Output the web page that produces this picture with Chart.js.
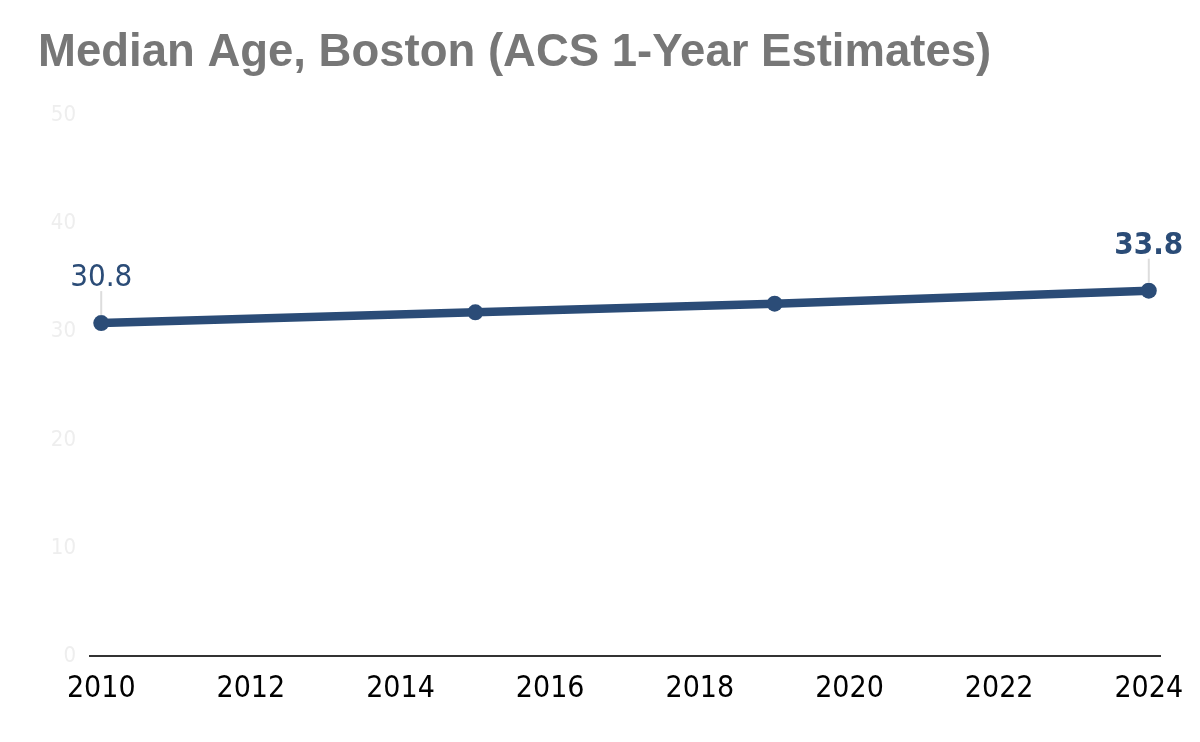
<!DOCTYPE html>
<html>
<head>
<meta charset="utf-8">
<script src="https://cdn.jsdelivr.net/npm/chart.js@4.4.1/dist/chart.umd.min.js"></script>
<style>
  html, body { margin: 0; padding: 0; background: #ffffff; }
  #wrap { width: 1200px; height: 742px; position: relative; }
</style>
</head>
<body>
<div id="wrap"><canvas id="ageChart"></canvas></div>
<script>
// data
const years = [2010, 2015, 2019, 2024];
const medianAge = [30.8, 31.8, 32.6, 33.8];
const xTickYears = [2010, 2012, 2014, 2016, 2018, 2020, 2022, 2024];
const yTickValues = [0, 10, 20, 30, 40, 50];
// which points carry a value label, and whether it is bold
const labelled = [0, 3];
const labelBold = [false, true];

const navy = '#2b4c77';
const tickFont = "'DejaVu Sans Condensed', 'DejaVu Sans', sans-serif";

// draws the value labels with a thin leader line above the point
const valueLabels = {
    id: 'valueLabels',
    afterDatasetsDraw(chart) {
        const ctx = chart.ctx;
        const meta = chart.getDatasetMeta(0);
        ctx.save();
        labelled.forEach(function(idx, k) {
            const pt = meta.data[idx];
            ctx.strokeStyle = '#dddddd';
            ctx.lineWidth = 2;
            ctx.beginPath();
            ctx.moveTo(pt.x, pt.y - 8);
            ctx.lineTo(pt.x, pt.y - 32);
            ctx.stroke();
            ctx.fillStyle = navy;
            ctx.font = (labelBold[k] ? 'bold ' : '') + '31px ' + tickFont;
            ctx.textAlign = 'center';
            ctx.textBaseline = 'alphabetic';
            ctx.fillText(medianAge[idx].toFixed(1), pt.x, pt.y - 37);
        });
        ctx.restore();
    }
};

const ctx = document.getElementById('ageChart').getContext('2d');
new Chart(ctx, {
    type: 'line',
    data: {
        datasets: [{
            data: years.map(function(y, i) { return { x: y, y: medianAge[i] }; }),
            borderColor: navy,
            backgroundColor: navy,
            borderWidth: 8.5,
            pointRadius: 8,
            pointHoverRadius: 8,
            pointBackgroundColor: navy,
            pointBorderWidth: 0,
            tension: 0,
            fill: false
        }]
    },
    options: {
        responsive: true,
        maintainAspectRatio: false,
        animation: false,
        layout: { padding: { left: 38, right: 40, top: 0, bottom: 20 } },
        plugins: {
            legend: { display: false },
            tooltip: { enabled: false },
            title: {
                display: true,
                text: 'Median Age, Boston (ACS 1-Year Estimates)',
                align: 'start',
                color: '#777777',
                font: { family: "'Liberation Sans', Arial, sans-serif", size: 45.5, weight: 'bold' },
                padding: { top: 26, bottom: 35 }
            }
        },
        scales: {
            x: {
                type: 'linear',
                min: 2009.85,
                max: 2024.15,
                afterBuildTicks: function(scale) {
                    scale.ticks = xTickYears.map(function(v) { return { value: v }; });
                },
                grid: { display: false, drawTicks: false },
                border: { display: true, color: '#333333', width: 2 },
                ticks: {
                    color: '#000000',
                    font: { family: tickFont, size: 30 },
                    padding: 15,
                    maxRotation: 0,
                    autoSkip: false,
                    callback: function(v) { return String(v); }
                }
            },
            y: {
                min: 0,
                max: 50,
                afterBuildTicks: function(scale) {
                    scale.ticks = yTickValues.map(function(v) { return { value: v }; });
                },
                afterFit: function(scale) { scale.width = 52; },
                grid: { display: false, drawTicks: false },
                border: { display: false },
                ticks: {
                    color: '#eeeeee',
                    font: { family: tickFont, size: 22 },
                    padding: 14
                }
            }
        }
    },
    plugins: [valueLabels]
});
</script>
</body>
</html>
